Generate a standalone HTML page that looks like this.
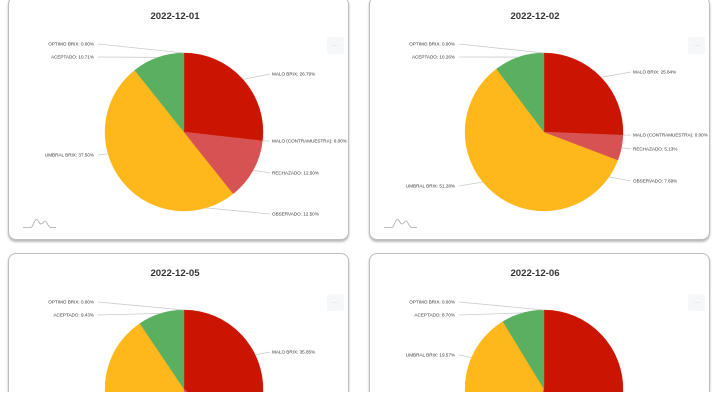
<!DOCTYPE html>
<html><head><meta charset="utf-8"><style>
html,body{margin:0;padding:0;background:#fff;width:720px;height:405px;overflow:hidden;position:relative;}
.card{position:absolute;box-sizing:border-box;width:341px;height:244px;border:1px solid #bdbdbd;border-radius:8px;background:#fff;box-shadow:0 2px 2px rgba(0,0,0,0.28);}
svg{position:absolute;left:0;top:0;}
.cover{position:absolute;left:0;top:392px;width:720px;height:13px;background:#fff;}
</style></head><body>
<div class="card" style="left:8px;top:-4px"></div>
<div class="card" style="left:369px;top:-4px"></div>
<div class="card" style="left:8px;top:253px;height:145px"></div>
<div class="card" style="left:369px;top:253px;height:145px"></div>
<svg width="720" height="405" viewBox="0 0 720 405" xmlns="http://www.w3.org/2000/svg">
<g font-family="Liberation Sans, sans-serif">
<!-- titles -->
<g font-size="9.6" font-weight="bold" fill="#333" text-anchor="middle">
<text x="175" y="19">2022-12-01</text>
<text x="535" y="19">2022-12-02</text>
<text x="175" y="276">2022-12-05</text>
<text x="535" y="276">2022-12-06</text>
</g>
<!-- menu buttons -->
<g fill="#f6f7f8">
<rect x="327" y="37" width="17" height="17" rx="2"/>
<rect x="688" y="37" width="17" height="17" rx="2"/>
<rect x="327" y="294" width="17" height="17" rx="2"/>
<rect x="688" y="294" width="17" height="17" rx="2"/>
</g>
<g fill="#d0d4d8">
<circle cx="333" cy="45.5" r="0.5"/><circle cx="335.5" cy="45.5" r="0.5"/><circle cx="338" cy="45.5" r="0.5"/>
<circle cx="694" cy="45.5" r="0.5"/><circle cx="696.5" cy="45.5" r="0.5"/><circle cx="699" cy="45.5" r="0.5"/>
<circle cx="333" cy="302.5" r="0.5"/><circle cx="335.5" cy="302.5" r="0.5"/><circle cx="338" cy="302.5" r="0.5"/>
<circle cx="694" cy="302.5" r="0.5"/><circle cx="696.5" cy="302.5" r="0.5"/><circle cx="699" cy="302.5" r="0.5"/>
</g>
<!-- icons -->
<g fill="none" stroke="#a8a8a8" stroke-width="0.8">
<path d="M23,227.5 L31,227.5 C33,227.5 34,219.5 36.5,219.5 C38.5,219.5 39,224 41,224 C43,224 43.5,221 45,221 C47,221 48,227.5 51,227.5 L56,227.5"/>
<path d="M384,227.5 L392,227.5 C394,227.5 395,219.5 397.5,219.5 C399.5,219.5 400,224 402,224 C404,224 404.5,221 406,221 C408,221 409,227.5 412,227.5 L417,227.5"/>
</g>

<!-- PIE 1 -->
<path d="M184,132 L233.25,193.77 A79,79 0 0 1 175.13,210.50 A79,79 0 0 1 134.75,70.23 Z" fill="#feb81b" stroke="#feb81b" stroke-width="0.4"/>
<path d="M184,132 L184,53 A79,79 0 0 1 262.50,140.87 Z" fill="#cc1500" stroke="#cc1500" stroke-width="0.4"/>
<path d="M184,132 L262.50,140.87 A79,79 0 0 1 233.25,193.77 Z" fill="#d75252" stroke="#d75252" stroke-width="0.4"/>
<path d="M184,132 L134.75,70.23 A79,79 0 0 1 184,53 Z" fill="#5aaf60" stroke="#5aaf60" stroke-width="0.4"/>

<!-- PIE 2 -->
<path d="M544,132 L617.87,160.02 A79,79 0 0 1 596.39,191.13 A79,79 0 1 1 496.53,68.85 Z" fill="#feb81b" stroke="#feb81b" stroke-width="0.4"/>
<path d="M544,132 L544,53 A79,79 0 0 1 622.94,135.18 Z" fill="#cc1500" stroke="#cc1500" stroke-width="0.4"/>
<path d="M544,132 L622.94,135.18 A79,79 0 0 1 617.87,160.02 Z" fill="#d75252" stroke="#d75252" stroke-width="0.4"/>
<path d="M544,132 L496.53,68.85 A79,79 0 0 1 544,53 Z" fill="#5aaf60" stroke="#5aaf60" stroke-width="0.4"/>

<!-- PIE 3 (clipped at y=392) -->
<path d="M184,389 L184.18,392 L105.06,392 A79,79 0 0 1 139.90,323.46 Z" fill="#feb81b" stroke="#feb81b" stroke-width="0.4"/>
<path d="M184,389 L184,310 A79,79 0 0 1 262.94,392 L187.7,392 Z" fill="#cc1500" stroke="#cc1500" stroke-width="0.4"/>
<path d="M184,389 L187.7,392 L184.18,392 Z" fill="#d75252"/>
<path d="M184,389 L139.90,323.46 A79,79 0 0 1 184,310 Z" fill="#5aaf60" stroke="#5aaf60" stroke-width="0.4"/>

<!-- PIE 4 (clipped at y=392) -->
<path d="M544,389 L542.70,392 L465.06,392 A79,79 0 0 1 502.93,321.51 Z" fill="#feb81b" stroke="#feb81b" stroke-width="0.4"/>
<path d="M544,389 L544,310 A79,79 0 0 1 622.94,392 L543.59,392 Z" fill="#cc1500" stroke="#cc1500" stroke-width="0.4"/>
<path d="M544,389 L543.59,392 L542.70,392 Z" fill="#d75252"/>
<path d="M544,389 L502.93,321.51 A79,79 0 0 1 544,310 Z" fill="#5aaf60" stroke="#5aaf60" stroke-width="0.4"/>

<!-- connectors -->
<g stroke="#cacaca" stroke-width="0.8" fill="none">
<path d="M98,44 L184,53"/>
<path d="M98,57 L157.9,57.4"/>
<path d="M98,155 L108.1,153.9"/>
<path d="M242.9,79.4 L270,74"/>
<path d="M262.5,140.9 L270,141"/>
<path d="M253.1,170.2 L270,173"/>
<path d="M205.9,207.9 L270,214"/>

<path d="M459,44 L544,53"/>
<path d="M459,57 L519,57.1"/>
<path d="M459,186 L482.8,182"/>
<path d="M601,77.3 L631,72"/>
<path d="M622.9,135.2 L631,135"/>
<path d="M621.4,147.8 L631,149"/>
<path d="M609,176.9 L631,181"/>

<path d="M98,302 L184,310"/>
<path d="M98,315 L160.9,313.4"/>
<path d="M255.3,355 L270,352"/>

<path d="M459,302 L544,310"/>
<path d="M459,315 L522.7,312.9"/>
<path d="M459,355 L471.5,357.5"/>
</g>

<!-- labels -->
<g font-size="4.6" fill="#333">
<g text-anchor="end">
<text x="94" y="45.6">OPTIMO BRIX: 0.00%</text>
<text x="94" y="58.6">ACEPTADO: 10.71%</text>
<text x="94" y="156.6">UMBRAL BRIX: 37.50%</text>
<text x="455" y="45.6">OPTIMO BRIX: 0.00%</text>
<text x="455" y="58.6">ACEPTADO: 10.26%</text>
<text x="455" y="187.6">UMBRAL BRIX: 51.28%</text>
<text x="94" y="303.6">OPTIMO BRIX: 0.00%</text>
<text x="94" y="316.6">ACEPTADO: 9.43%</text>
<text x="455" y="303.6">OPTIMO BRIX: 0.00%</text>
<text x="455" y="316.6">ACEPTADO: 8.70%</text>
<text x="455" y="356.6">UMBRAL BRIX: 19.57%</text>
</g>
<text x="272" y="75.6">MALO BRIX: 26.79%</text>
<text x="272" y="142.6">MALO (CONTRAMUESTRA): 0.00%</text>
<text x="272" y="174.6">RECHAZADO: 12.50%</text>
<text x="272" y="215.6">OBSERVADO: 12.50%</text>
<text x="633" y="73.6">MALO BRIX: 25.64%</text>
<text x="633" y="136.6">MALO (CONTRAMUESTRA): 0.00%</text>
<text x="633" y="150.6">RECHAZADO: 5.13%</text>
<text x="633" y="182.6">OBSERVADO: 7.69%</text>
<text x="272" y="353.6">MALO BRIX: 35.85%</text>
</g>
</g>
</svg>
<div class="cover"></div>
</body></html>
